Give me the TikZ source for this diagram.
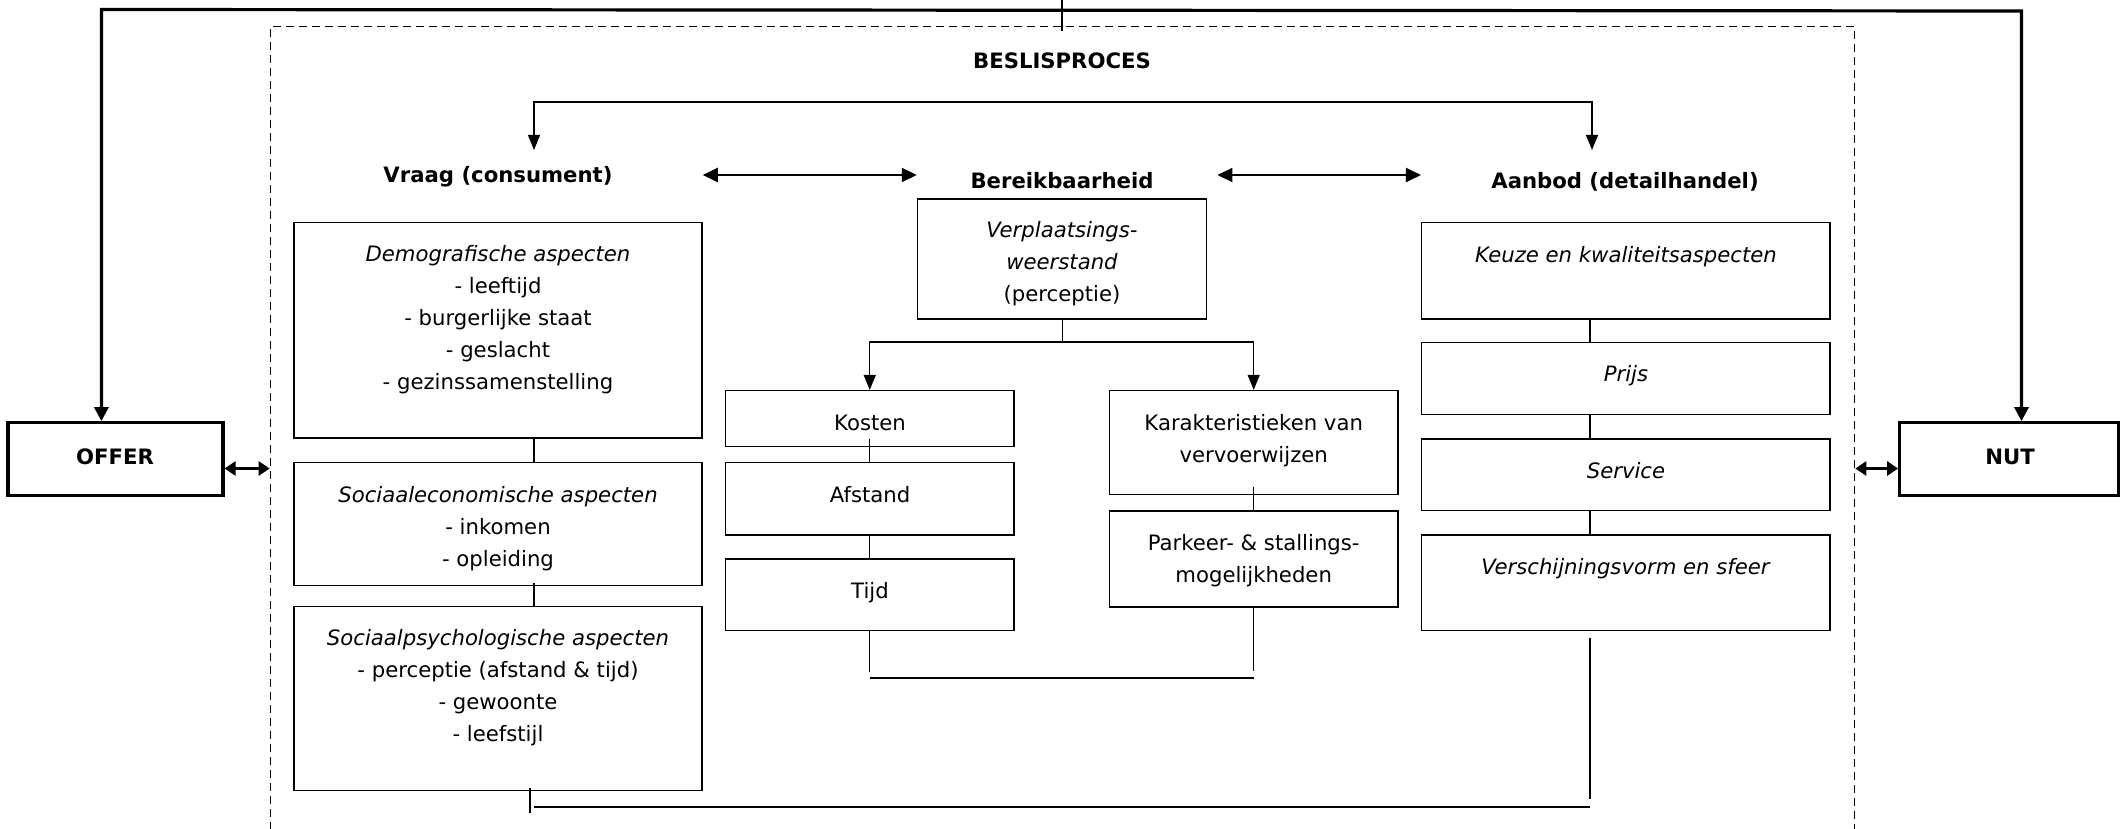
\documentclass[tikz,border=0pt]{standalone}
\usepackage{fontspec}
\setmainfont{DejaVu Sans}
\usetikzlibrary{arrows.meta,fit,calc}
\begin{document}
\begin{tikzpicture}[x=0.5pt,y=-0.5pt,
  box/.style={draw, line width=0.75pt, inner sep=0pt},
  bigbox/.style={draw, line width=1.6pt, inner sep=0pt},
  dashbox/.style={draw, line width=0.8pt, dash pattern=on 4pt off 2.5pt, inner sep=0pt},
  txt/.style={inner sep=0pt, align=center, anchor=north, yshift=7.2pt, font=\fontsize{10.6}{16}\selectfont, execute at begin node=\strut},
  mtxt/.style={txt, yshift=-2.9pt},
  ttl/.style={txt, yshift=0.4pt, font=\fontsize{10.6}{16}\selectfont\bfseries},
  conn/.style={line width=0.55pt},
  hconn/.style={line width=1pt},
  arr/.style={conn, -{Triangle[length=7.5pt,width=6pt]}},
  arrs/.style={conn, {Triangle[length=7.5pt,width=6pt]}-{Triangle[length=7.5pt,width=6pt]}},
  darr/.style={line width=1pt, {Triangle[length=7.5pt,width=7pt]}-{Triangle[length=7.5pt,width=7pt]}},
  sarr/.style={line width=1.3pt, {Triangle[length=5.5pt,width=7pt]}-{Triangle[length=5.5pt,width=7pt]}},
  toparr/.style={line width=1.6pt, {Triangle[length=7pt,width=7pt]}-{Triangle[length=7pt,width=7pt]}}
]
\useasboundingbox (0,0) rectangle (2121,829);

% dashed process frame
\node[dashbox, fit={(270.5,26.7) (1854.5,860)}] (proc) {};

% outer boxes
\node[bigbox, fit={(8,422.7) (223,495.7)}] (offer) {};
\node[bigbox, fit={(1899.7,422.7) (2118.5,495.7)}] (nut) {};
\node[ttl] (offert) at (115,457) {OFFER};
\node[ttl] (nutt) at (2010,457) {NUT};

% titles
\node[ttl] (besl) at (1062,61) {BESLISPROCES};
\node[ttl] (vraag) at (498,175) {Vraag (consument)};
\node[ttl] (bereik) at (1062,181) {Bereikbaarheid};
\node[ttl] (aanbod) at (1625,181) {Aanbod (detailhandel)};

% left column
\node[box, fit={(294,222.7) (702,438)}] (demo) {};
\node[box, fit={(294,462.7) (702,585.7)}] (socec) {};
\node[box, fit={(294,606.7) (702,790.7)}] (socpsy) {};
\node[mtxt] (demot) at (498,254) {\textit{Demografische aspecten}\\- leeftijd\\- burgerlijke staat\\- geslacht\\- gezinssamenstelling};
\node[mtxt] (socect) at (498,494.3) {\textit{Sociaaleconomische aspecten}\\- inkomen\\- opleiding};
\node[mtxt] (socpsyt) at (498,638) {\textit{Sociaalpsychologische aspecten}\\- perceptie (afstand \& tijd)\\- gewoonte\\- leefstijl};

% middle
\node[box, fit={(917.5,199) (1206.7,319)}] (verpl) {};
\node[mtxt] (verplt) at (1062,230) {\textit{Verplaatsings-}\\\textit{weerstand}\\(perceptie)};
\node[box, fit={(725.5,390.7) (1014,446.7)}] (kosten) {};
\node[box, fit={(725.5,462.7) (1014,535)}] (afstand) {};
\node[box, fit={(725.5,559) (1014,630.7)}] (tijd) {};
\node[txt] (kostent) at (870,422.3) {Kosten};
\node[txt] (afstandt) at (870,494.3) {Afstand};
\node[txt] (tijdt) at (870,590) {Tijd};
\node[box, fit={(1109.4,390.7) (1398,494.7)}] (karak) {};
\node[box, fit={(1109.4,511) (1398,607)}] (parkeer) {};
\node[mtxt] (karakt) at (1253.7,422.3) {Karakteristieken van\\vervoerwijzen};
\node[mtxt] (parkeert) at (1253.7,542.3) {Parkeer- \& stallings-\\mogelijkheden};

% right column
\node[box, fit={(1421.7,222.7) (1830,319)}] (keuze) {};
\node[box, fit={(1421.7,342.7) (1830,414.3)}] (prijs) {};
\node[box, fit={(1421.7,439) (1830,510.3)}] (service) {};
\node[box, fit={(1421.7,535) (1830,630.7)}] (versch) {};
\node[txt] (keuzet) at (1626,254) {\textit{Keuze en kwaliteitsaspecten}};
\node[txt] (prijst) at (1626,373.3) {\textit{Prijs}};
\node[txt] (servicet) at (1626,470) {\textit{Service}};
\node[txt] (verscht) at (1626,565.7) {\textit{Verschijningsvorm en sfeer}};

% helper coordinates
\coordinate (tl) at (101.4,9.5);
\coordinate (tr) at (2021.5,11);
\coordinate (stub) at (1062,0);
\coordinate (ya) at (0,468.5);
\coordinate (yb) at (0,175);
\coordinate (brL) at (534,102);
\coordinate (brR) at (1592,102);
\coordinate (tipL) at (534,150);
\coordinate (tipR) at (1592,150);
\coordinate (cL) at (534,0);
\coordinate (cLb) at (530,0);
\coordinate (cR) at (1590,0);
\coordinate (jy) at (0,342);
\coordinate (ml) at (870,678.3);
\coordinate (mr) at (1254,678.3);
\coordinate (bl) at (534,806.7);
\coordinate (br) at (1590,806.7);

% top loop
\draw[toparr] (tl |- offer.north) -- (tl) -- (tr) -- (tr |- nut.north);
\draw[conn] (stub) -- ($(stub |- proc.north)+(0,5)$);

% offer / nut double arrows
\draw[sarr] (offer.east |- ya) -- (proc.west |- ya);
\draw[sarr] (proc.east |- ya) -- (nut.west |- ya);

% bracket arrow
\draw[arrs] (tipL) -- (brL) -- (brR) -- (tipR);

% horizontal double arrows
\draw[darr] (demo.east |- yb) -- (verpl.west |- yb);
\draw[darr] ($(verpl.east |- yb)+(10,0)$) -- (keuze.west |- yb);

% left column connectors
\draw[conn] (cL |- demo.south) -- (cL |- socec.north);
\draw[conn] ($(cL |- socec.south)+(0,-3)$) -- (cL |- socpsy.north);
\draw[conn] ($(cLb |- socpsy.south)+(0,-3)$) -- ($(cLb |- socpsy.south)+(0,22)$);
\draw[hconn] (bl) -- (br);
\draw[conn] ($(cR |- versch.south)+(0,7)$) -- ($(cR |- versch.south)+(0,168)$);

% middle connectors
\draw[arr] (verpl.south) -- (verpl.south |- jy) -| (kosten.north);
\draw[arr] (verpl.south |- jy) -| (karak.north);
\draw[conn] ($(kosten.south)+(0,-8)$) -- (afstand.north);
\draw[conn] (afstand.south) -- (tijd.north);
\draw[conn] (tijd.south) -- ++(0,41);
\draw[conn] ($(karak.south)+(0,-8)$) -- (parkeer.north);
\draw[conn] (parkeer.south) -- ++(0,63.7);
\draw[hconn] (ml) -- (mr);

% right column connectors
\draw[conn] (cR |- keuze.south) -- (cR |- prijs.north);
\draw[conn] (cR |- prijs.south) -- (cR |- service.north);
\draw[conn] (cR |- service.south) -- (cR |- versch.north);
\end{tikzpicture}
\end{document}
